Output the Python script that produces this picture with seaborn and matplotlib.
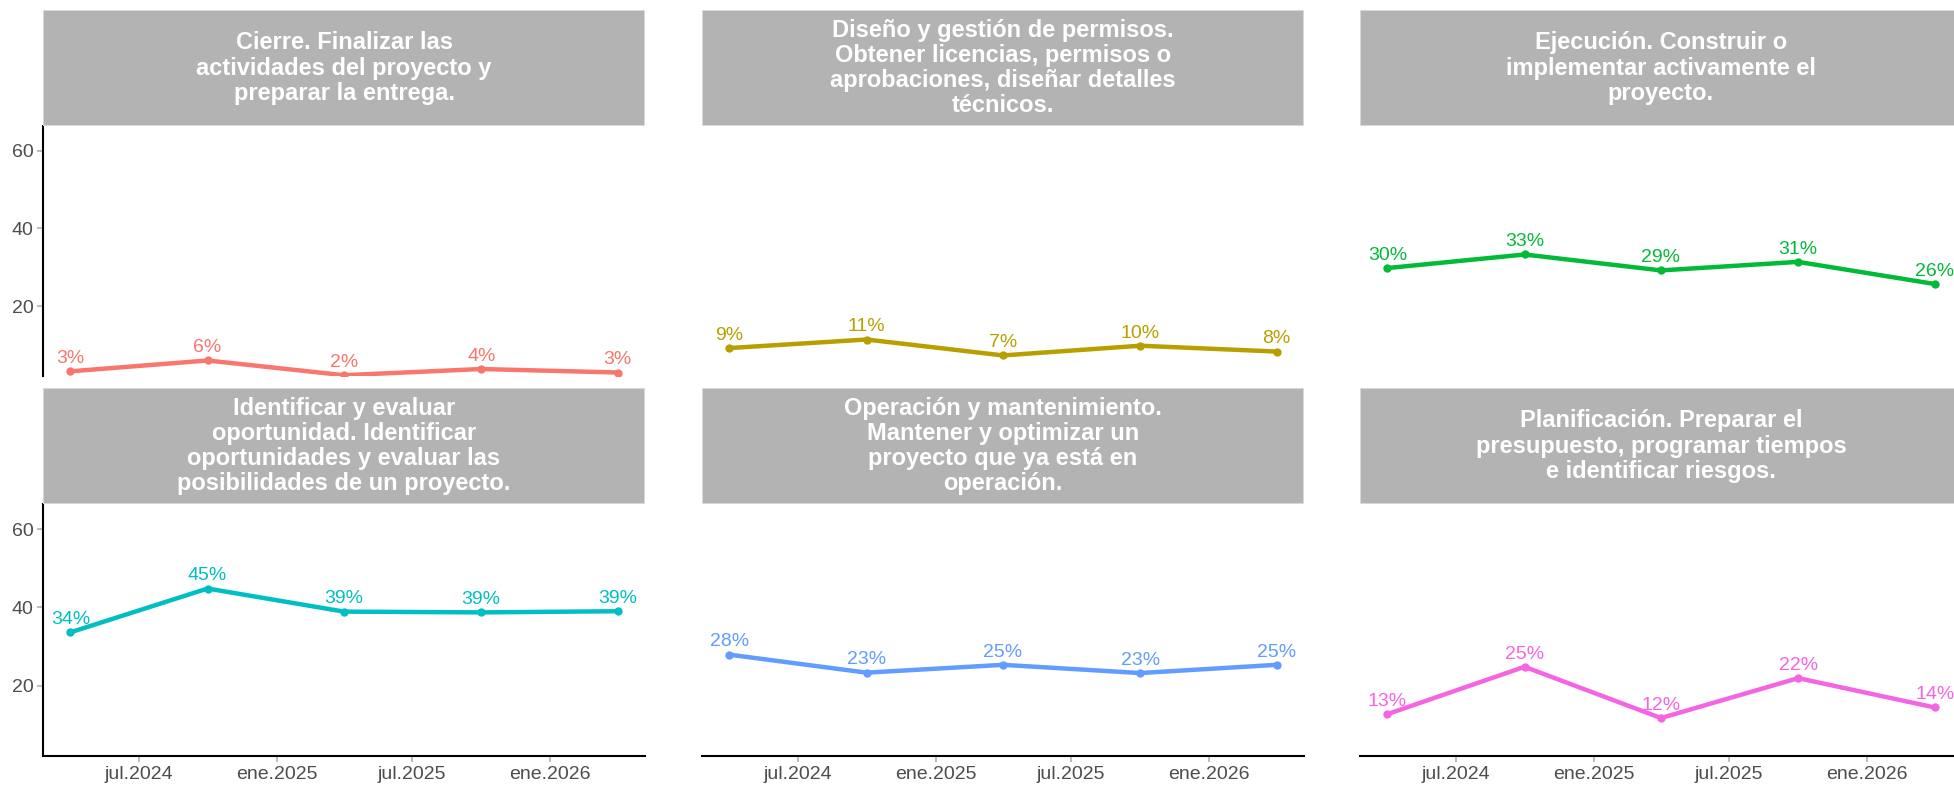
import matplotlib
matplotlib.use("Agg")
import matplotlib.pyplot as plt
import matplotlib.dates as mdates
from matplotlib.patches import Rectangle
import seaborn as sns
import pandas as pd
import numpy as np

# ---- data ----
fechas = ["2024-04-01", "2024-10-01", "2025-04-01", "2025-10-01", "2026-04-01"]

categorias = [
    "Cierre. Finalizar las\nactividades del proyecto y\npreparar la entrega.",
    "Diseño y gestión de permisos.\nObtener licencias, permisos o\naprobaciones, diseñar detalles\ntécnicos.",
    "Ejecución. Construir o\nimplementar activamente el\nproyecto.",
    "Identificar y evaluar\noportunidad. Identificar\noportunidades y evaluar las\nposibilidades de un proyecto.",
    "Operación y mantenimiento.\nMantener y optimizar un\nproyecto que ya está en\noperación.",
    "Planificación. Preparar el\npresupuesto, programar tiempos\ne identificar riesgos.",
]

cierre = [3.2, 6.0, 2.2, 3.8, 2.9]
diseno = [9.2, 11.4, 7.3, 9.8, 8.3]
ejecucion = [29.8, 33.3, 29.2, 31.4, 25.7]
identificar = [33.6, 44.8, 38.9, 38.7, 39.0]
operacion = [27.9, 23.3, 25.3, 23.2, 25.3]
planificacion = [12.7, 24.8, 11.7, 21.9, 14.4]

series = [cierre, diseno, ejecucion, identificar, operacion, planificacion]
colores = ["#F8766D", "#B79F00", "#00BA38", "#00BFC4", "#619CFF", "#F564E3"]

tick_fechas = ["2024-07-01", "2025-01-01", "2025-07-01", "2026-01-01"]
tick_etiquetas = ["jul.2024", "ene.2025", "jul.2025", "ene.2026"]
y_ticks = [20, 40, 60]

# ---- theme ----
sns.set_theme(style="white")
plt.rcParams["font.family"] = ["Liberation Sans", "DejaVu Sans"]

W, H = 1954, 785
fig = plt.figure(figsize=(W / 100, H / 100), dpi=100)

col_left = [43, 702, 1360]
panel_w = 602
row_strip = [(10, 126), (388, 504)]
row_panel = [(126, 376), (504, 756)]

x_dates = pd.to_datetime(fechas)
x0 = mdates.date2num(x_dates[0])
x1 = mdates.date2num(x_dates[-1])
pad = 0.05 * (x1 - x0)

for i, (cat, vals, col) in enumerate(zip(categorias, series, colores)):
    r, c = divmod(i, 3)
    left = col_left[c]
    pt, pb = row_panel[r]
    ax = fig.add_axes([left / W, 1 - pb / H, panel_w / W, (pb - pt) / H])
    df = pd.DataFrame({"fecha": x_dates, "valor": vals})
    sns.lineplot(data=df, x="fecha", y="valor", ax=ax, color=col, linewidth=3.2,
                 marker="o", markersize=6, markeredgewidth=0)
    for xd, v in zip(df["fecha"], df["valor"]):
        ax.annotate(f"{int(round(v))}%", xy=(xd, v), xytext=(0, 3),
                    textcoords="offset points", ha="center", va="bottom",
                    color=col, fontsize=14)
    ax.set_xlim(x0 - pad, x1 + pad)
    ax.set_ylim(2.0, 66.4)
    ax.set_xlabel("")
    ax.set_ylabel("")
    for s in ax.spines.values():
        s.set_visible(False)
    ax.set_xticks(pd.to_datetime(tick_fechas))
    ax.set_yticks(y_ticks)
    if c == 0:
        ax.spines["left"].set_visible(True)
        ax.spines["left"].set_color("black")
        ax.spines["left"].set_linewidth(1.5)
        ax.set_yticklabels([str(t) for t in y_ticks])
        ax.tick_params(axis="y", left=True, length=4, color="#b3b3b3",
                       labelsize=14, labelcolor="#4D4D4D", pad=3)
    else:
        ax.tick_params(axis="y", left=False, labelleft=False)
    if r == 1:
        ax.spines["bottom"].set_visible(True)
        ax.spines["bottom"].set_color("black")
        ax.spines["bottom"].set_linewidth(1.5)
        ax.set_xticklabels(tick_etiquetas)
        ax.tick_params(axis="x", bottom=True, length=4, color="#b3b3b3",
                       labelsize=14, labelcolor="#4D4D4D", pad=3)
    else:
        ax.tick_params(axis="x", bottom=False, labelbottom=False)
    ax.grid(False)
    ax.set_facecolor("white")

    # strip
    st, sb = row_strip[r]
    sax = fig.add_axes([left / W, 1 - sb / H, panel_w / W, (sb - st) / H])
    sax.set_xlim(0, 1)
    sax.set_ylim(0, 1)
    sax.axis("off")
    sax.add_patch(Rectangle((0, 0), 1, 1, facecolor="#B3B3B3",
                            edgecolor="#E0E0E0", linewidth=1.2,
                            transform=sax.transAxes))
    sax.text(0.5, 0.5, cat, ha="center", va="center", color="white",
             fontsize=17, fontweight="bold", linespacing=1.12)

fig.savefig("out.png", dpi=100, facecolor="white")
